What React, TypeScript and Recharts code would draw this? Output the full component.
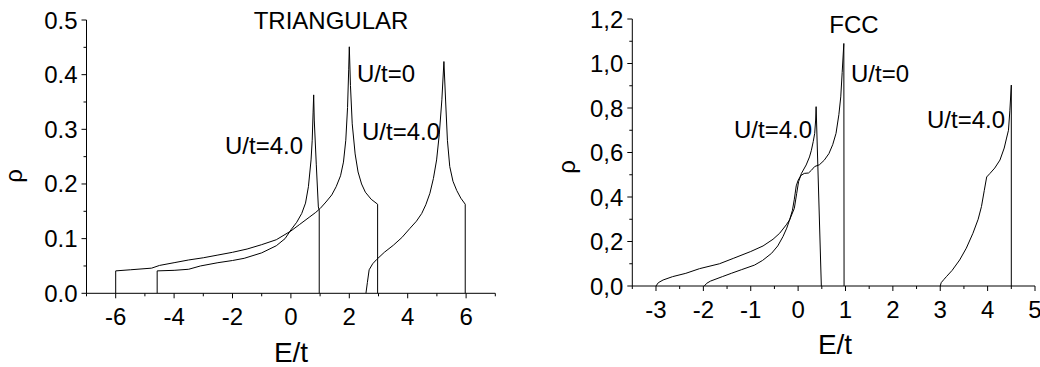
import React from 'react';
import { LineChart, Line, XAxis, YAxis } from 'recharts';

// ---------- data: [E/t, rho] pairs ----------
const triU0: number[][] = [
  [-6, 0], [-6, 0.041], [-5.5, 0.043], [-4.77, 0.046], [-4.5, 0.051], [-4, 0.056], [-3.5, 0.061],
  [-3, 0.065], [-2.5, 0.07], [-2, 0.075], [-1.5, 0.081], [-1, 0.089], [-0.5, 0.098], [0, 0.114],
  [0.3, 0.126], [0.65, 0.14], [0.85, 0.148], [1.0, 0.155], [1.2, 0.167], [1.4, 0.18], [1.55, 0.195],
  [1.7, 0.215], [1.8, 0.24], [1.88, 0.28], [1.94, 0.34], [1.98, 0.41], [2.0, 0.451], [2.04, 0.38],
  [2.1, 0.31], [2.2, 0.255], [2.3, 0.222], [2.42, 0.2], [2.55, 0.185], [2.75, 0.172], [2.97, 0.163],
  [2.97, 0],
];
const triU4Lower: number[][] = [
  [-4.58, 0], [-4.58, 0.041], [-4, 0.042], [-3.5, 0.044], [-3.1, 0.05], [-2.5, 0.056], [-2, 0.06],
  [-1.6, 0.064], [-1, 0.074], [-0.5, 0.087], [-0.2, 0.1], [0, 0.116], [0.2, 0.13], [0.37, 0.146],
  [0.5, 0.165], [0.6, 0.195], [0.69, 0.244], [0.73, 0.28], [0.76, 0.33], [0.78, 0.363], [0.8, 0.317],
  [0.87, 0.235], [0.94, 0.158], [0.97, 0.152], [0.97, 0],
];
const triU4Upper: number[][] = [
  [2.57, 0], [2.62, 0.02], [2.68, 0.043], [2.8, 0.054], [2.94, 0.062], [3.2, 0.075], [3.51, 0.088],
  [3.8, 0.102], [4.08, 0.119], [4.3, 0.132], [4.48, 0.146], [4.62, 0.162], [4.76, 0.183], [4.88, 0.21],
  [4.99, 0.244], [5.08, 0.29], [5.17, 0.354], [5.24, 0.424], [5.3, 0.35], [5.36, 0.28], [5.44, 0.232],
  [5.55, 0.205], [5.68, 0.188], [5.82, 0.174], [5.97, 0.163], [5.97, 0],
];

const fccU0: number[][] = [
  [-1.98, 0], [-1.93, 0.012], [-1.85, 0.022], [-1.6, 0.042], [-1.41, 0.057], [-1.2, 0.073],
  [-0.92, 0.094], [-0.75, 0.115], [-0.56, 0.147], [-0.43, 0.18], [-0.32, 0.222], [-0.24, 0.26],
  [-0.18, 0.297], [-0.12, 0.34], [-0.08, 0.39], [-0.04, 0.45], [0.0, 0.475], [0.06, 0.497],
  [0.13, 0.506], [0.22, 0.508], [0.28, 0.52], [0.35, 0.537], [0.45, 0.545], [0.55, 0.565],
  [0.65, 0.595], [0.73, 0.635], [0.8, 0.686], [0.86, 0.77], [0.9, 0.85], [0.93, 0.96], [0.965, 1.09],
  [0.97, 0],
];
const fccU4Lower: number[][] = [
  [-3, 0], [-2.95, 0.015], [-2.85, 0.027], [-2.65, 0.042], [-2.37, 0.057], [-2.08, 0.078],
  [-1.66, 0.1], [-1.37, 0.124], [-1.0, 0.155], [-0.74, 0.18], [-0.53, 0.21], [-0.39, 0.237],
  [-0.25, 0.275], [-0.18, 0.297], [-0.08, 0.349], [-0.03, 0.416], [0.01, 0.469], [0.07, 0.506],
  [0.17, 0.544], [0.24, 0.58], [0.28, 0.61], [0.32, 0.65], [0.35, 0.686], [0.37, 0.746], [0.38, 0.806],
  [0.49, 0],
];
const fccU4Upper: number[][] = [
  [3.0, 0], [3.02, 0.015], [3.08, 0.03], [3.13, 0.042], [3.25, 0.07], [3.41, 0.117], [3.55, 0.17],
  [3.69, 0.237], [3.8, 0.3], [3.87, 0.357], [3.93, 0.43], [3.98, 0.49], [4.05, 0.506], [4.15, 0.53],
  [4.26, 0.566], [4.35, 0.62], [4.4, 0.665], [4.44, 0.7], [4.47, 0.79], [4.5, 0.903], [4.5, 0],
];

// ---------- ticks ----------
const triXTicks = [-7, -6, -5, -4, -3, -2, -1, 0, 1, 2, 3, 4, 5, 6, 7];
const triXLabels = [-6, -4, -2, 0, 2, 4, 6];
const triYTicks = [0, 0.05, 0.1, 0.15, 0.2, 0.25, 0.3, 0.35, 0.4, 0.45, 0.5];
const triYLabels = [0, 0.1, 0.2, 0.3, 0.4, 0.5];
const fccXTicks = [-3.5, -3, -2.5, -2, -1.5, -1, -0.5, 0, 0.5, 1, 1.5, 2, 2.5, 3, 3.5, 4, 4.5, 5];
const fccXLabels = [-3, -2, -1, 0, 1, 2, 3, 4, 5];
const fccYTicks = [0, 0.1, 0.2, 0.3, 0.4, 0.5, 0.6, 0.7, 0.8, 0.9, 1.0, 1.1, 1.2];
const fccYLabels = [0, 0.2, 0.4, 0.6, 0.8, 1.0, 1.2];

const FONT = "'Liberation Sans', Arial, sans-serif";

const toObjs = (arr: number[][]) => arr.map(([x, y]) => ({ x, y }));
const isIn = (v: number, list: number[]) => list.some((l) => Math.abs(l - v) < 1e-6);

const makeXTick = (labels: number[], fmt: (v: number) => string) => (props: any) => {
  const { x, y, payload } = props;
  const major = isIn(payload.value, labels);
  return (
    <g>
      <line x1={x} x2={x} y1={y} y2={y + (major ? 5 : 3)} stroke="#000" strokeWidth={1} />
      {major && (
        <text x={x} y={y + 32} textAnchor="middle" fontSize={24} fontFamily={FONT} fill="#000">
          {fmt(payload.value)}
        </text>
      )}
    </g>
  );
};

const makeYTick = (labels: number[], fmt: (v: number) => string) => (props: any) => {
  const { x, y, payload } = props;
  const major = isIn(payload.value, labels);
  return (
    <g>
      <line x1={x - (major ? 5 : 3)} x2={x} y1={y} y2={y} stroke="#000" strokeWidth={1} />
      {major && (
        <text x={x - 9} y={y + 8.5} textAnchor="end" fontSize={24} fontFamily={FONT} fill="#000">
          {fmt(payload.value)}
        </text>
      )}
    </g>
  );
};

const Txt = ({ x, y, size = 24, rotate = false, children }: any) => (
  <div
    style={{
      position: 'absolute',
      left: x,
      top: y,
      transform: `translate(-50%, -50%)${rotate ? ' rotate(-90deg)' : ''}`,
      fontFamily: FONT,
      fontSize: size,
      lineHeight: 1,
      whiteSpace: 'nowrap',
      color: '#000',
    }}
  >
    {children}
  </div>
);

const lineProps = {
  type: 'linear' as const,
  dataKey: 'y',
  stroke: '#000',
  strokeWidth: 1,
  dot: false,
  activeDot: false,
  isAnimationActive: false,
};

export default function App() {
  return (
    <div style={{ position: 'absolute', left: 0, top: 0, width: 1040, height: 367, background: '#fff', overflow: 'hidden' }}>
      <div style={{ position: 'absolute', left: 0, top: 0 }}>
        <LineChart width={520} height={367} margin={{ top: 20, right: 24.7, left: 26.5, bottom: 33.7 }}>
          <XAxis
            dataKey="x"
            type="number"
            domain={[-7, 7]}
            ticks={triXTicks}
            interval={0}
            allowDataOverflow
            height={40}
            tickSize={0}
            tickMargin={0}
            tickLine={false}
            axisLine={{ stroke: '#000', strokeWidth: 1 }}
            tick={makeXTick(triXLabels, (v) => String(v))}
          />
          <YAxis
            type="number"
            domain={[0, 0.5]}
            ticks={triYTicks}
            interval={0}
            allowDataOverflow
            width={60}
            tickSize={0}
            tickMargin={0}
            tickLine={false}
            axisLine={{ stroke: '#000', strokeWidth: 1 }}
            tick={makeYTick(triYLabels, (v) => v.toFixed(1))}
          />
          <Line {...lineProps} data={toObjs(triU0)} name="U/t=0" />
          <Line {...lineProps} data={toObjs(triU4Lower)} name="U/t=4.0 lower" />
          <Line {...lineProps} data={toObjs(triU4Upper)} name="U/t=4.0 upper" />
        </LineChart>
      </div>
      <div style={{ position: 'absolute', left: 520, top: 0 }}>
        <LineChart width={520} height={367} margin={{ top: 19, right: 5, left: 52.3, bottom: 41 }}>
          <XAxis
            dataKey="x"
            type="number"
            domain={[-3.5, 5]}
            ticks={fccXTicks}
            interval={0}
            allowDataOverflow
            height={40}
            tickSize={0}
            tickMargin={0}
            tickLine={false}
            axisLine={{ stroke: '#000', strokeWidth: 1 }}
            tick={makeXTick(fccXLabels, (v) => String(v))}
          />
          <YAxis
            type="number"
            domain={[0, 1.2]}
            ticks={fccYTicks}
            interval={0}
            allowDataOverflow
            width={60}
            tickSize={0}
            tickMargin={0}
            tickLine={false}
            axisLine={{ stroke: '#000', strokeWidth: 1 }}
            tick={makeYTick(fccYLabels, (v) => v.toFixed(1).replace('.', ','))}
          />
          <Line {...lineProps} data={toObjs(fccU0)} name="U/t=0" />
          <Line {...lineProps} data={toObjs(fccU4Lower)} name="U/t=4.0 lower" />
          <Line {...lineProps} data={toObjs(fccU4Upper)} name="U/t=4.0 upper" />
        </LineChart>
      </div>

      {/* left panel texts */}
      <Txt x={331} y={21}>TRIANGULAR</Txt>
      <Txt x={264} y={146}>U/t=4.0</Txt>
      <Txt x={386} y={74}>U/t=0</Txt>
      <Txt x={401} y={132}>U/t=4.0</Txt>
      <Txt x={291} y={353} size={28}>E/t</Txt>
      <Txt x={14} y={176} size={24} rotate>ρ</Txt>

      {/* right panel texts */}
      <Txt x={854} y={25}>FCC</Txt>
      <Txt x={773} y={130}>U/t=4.0</Txt>
      <Txt x={880} y={74}>U/t=0</Txt>
      <Txt x={966} y={120}>U/t=4.0</Txt>
      <Txt x={835} y={345} size={28}>E/t</Txt>
      <Txt x={567} y={167} size={24} rotate>ρ</Txt>
    </div>
  );
}
